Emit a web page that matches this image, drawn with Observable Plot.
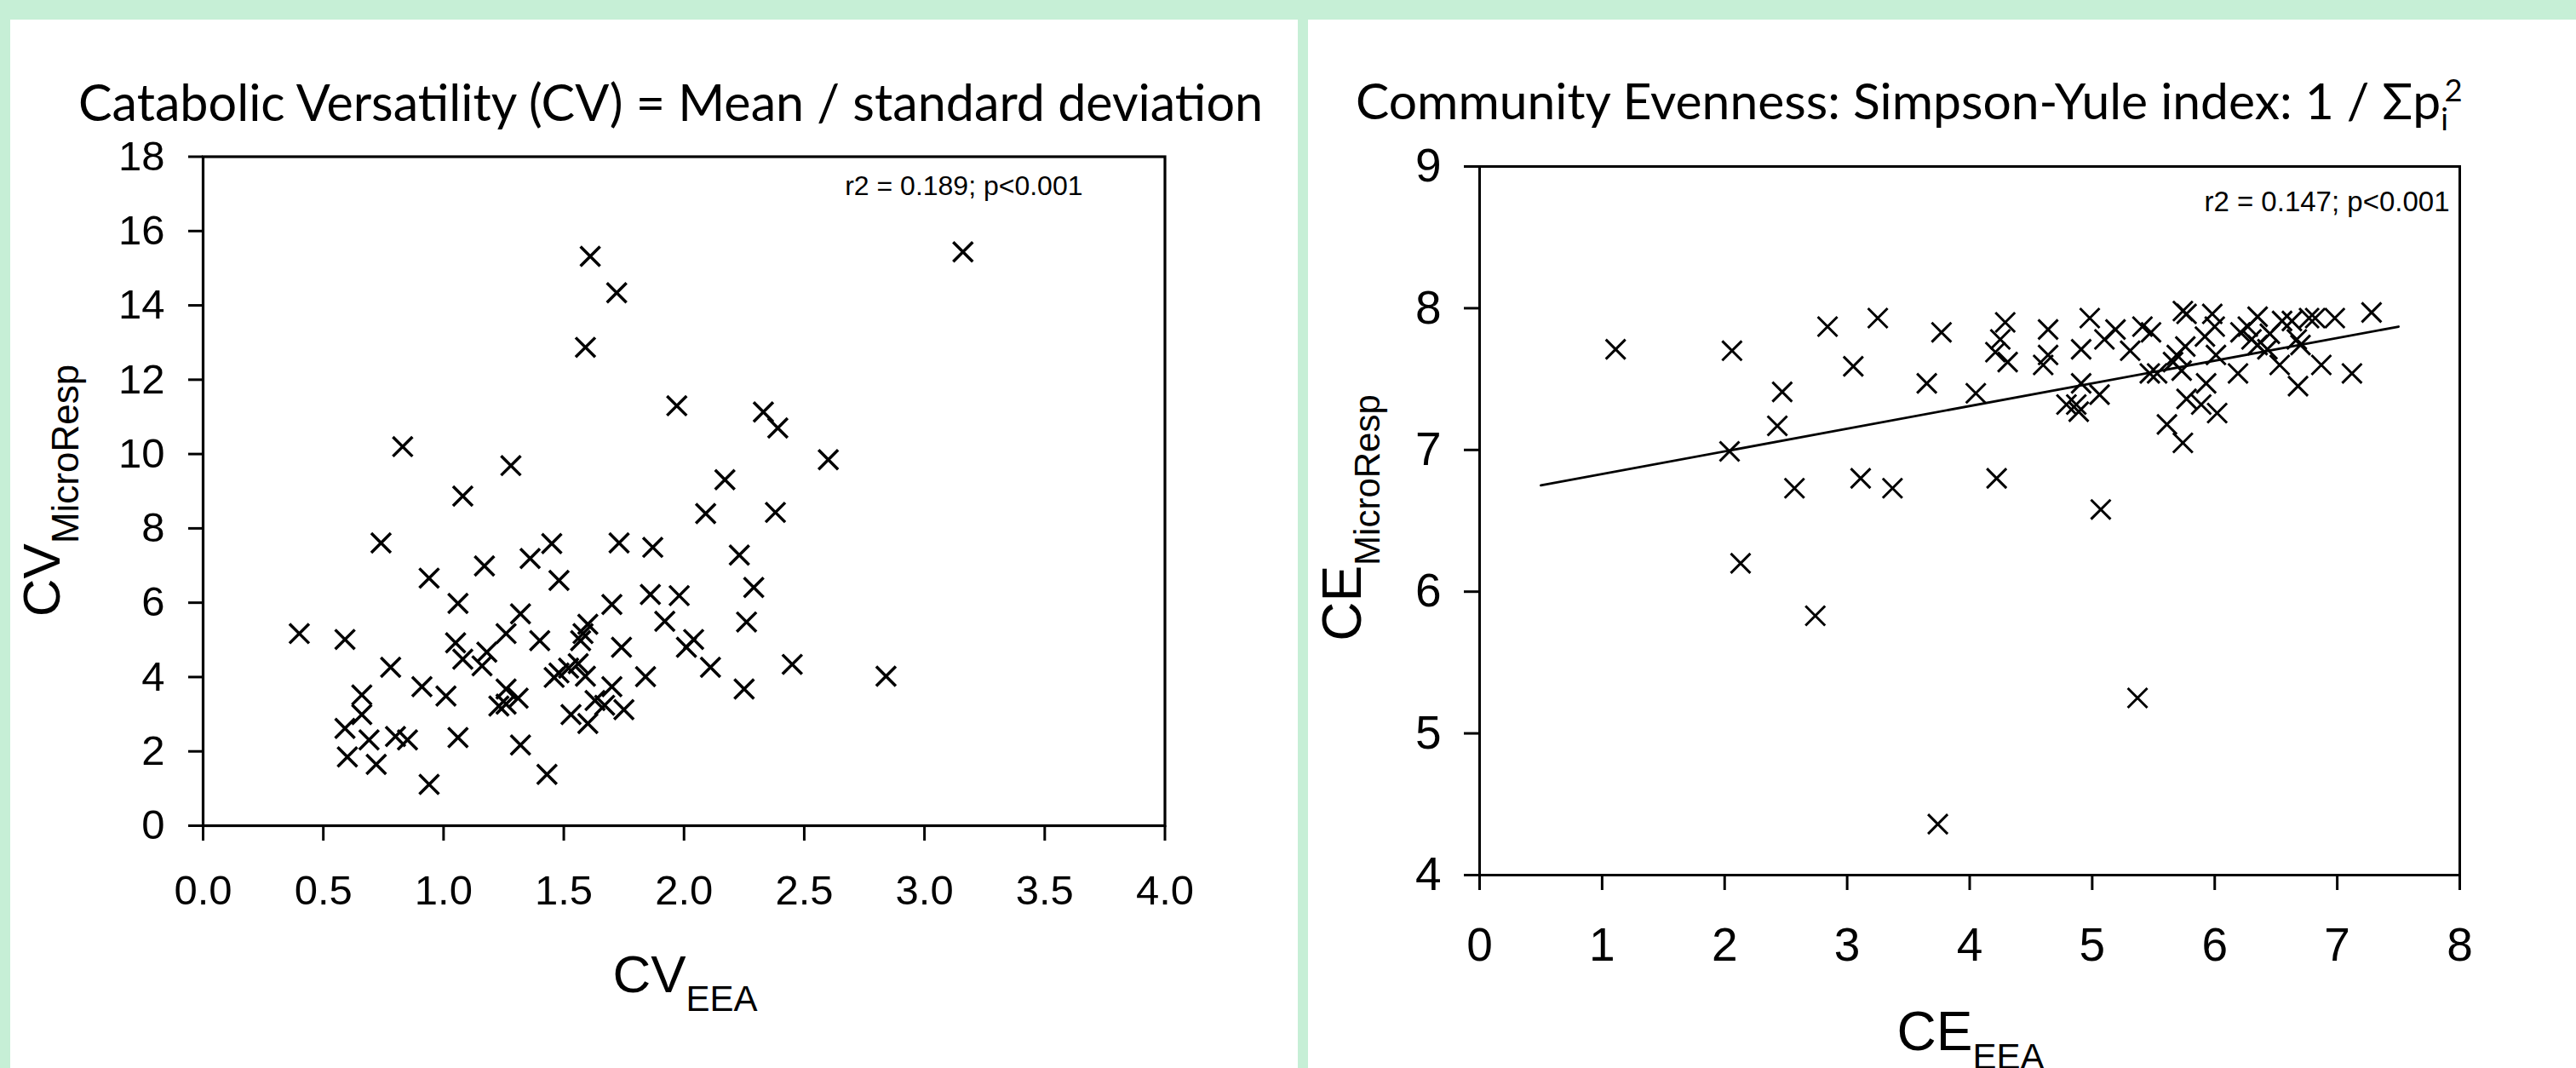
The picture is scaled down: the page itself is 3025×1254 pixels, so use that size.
<!DOCTYPE html>
<html>
<head>
<meta charset="utf-8">
<script src="https://cdn.jsdelivr.net/npm/d3@7"></script>
<script src="https://cdn.jsdelivr.net/npm/@observablehq/plot@0.6"></script>
<style>
  html, body { margin: 0; padding: 0; }
  body { width: 3025px; height: 1254px; overflow: hidden; background: #c6efd6; position: relative;
         font-family: "Liberation Sans", Arial, sans-serif; }
  .panel { position: absolute; background: #ffffff; top: 23px; height: 1231px; overflow: hidden; }
  .title { position: absolute; left: 0; top: 0; white-space: nowrap; font-family: Lato, "Open Sans", sans-serif;
           color: #000; line-height: 1.2; }
  .title sub, .title sup { font-size: 62%; line-height: 0; }
  .panel svg { position: absolute; left: 0; top: 130px; }
</style>
</head>
<body>
<div id="leftPanel" class="panel" style="left:12px;width:1512px"></div>
<div id="rightPanel" class="panel" style="left:1536px;width:1489px"></div>
<script>
// ---------------- data ----------------
const leftTitle = "Catabolic Versatility (CV) = Mean / standard deviation";
const rightTitleMain = "Community Evenness: Simpson-Yule index: 1 / Σp";
const rightTitleSub = "i";
const rightTitleSup = "2";

const cvStat = "r2 = 0.189; p<0.001";
const ceStat = "r2 = 0.147; p<0.001";

const cvXLabel = ["CV", "EEA"];
const cvYLabel = ["CV", "MicroResp"];
const ceXLabel = ["CE", "EEA"];
const ceYLabel = ["CE", "MicroResp"];

const cvXTicks = [0, 0.5, 1, 1.5, 2, 2.5, 3, 3.5, 4];
const cvYTicks = [0, 2, 4, 6, 8, 10, 12, 14, 16, 18];
const ceXTicks = [0, 1, 2, 3, 4, 5, 6, 7, 8];
const ceYTicks = [4, 5, 6, 7, 8, 9];

// Catabolic versatility: EEA (x) vs MicroResp (y)
const cvEEA = [1.61, 1.72, 1.59, 1.97, 2.33, 0.83, 1.28, 1.08, 2.17, 2.09,
               2.38, 0.74, 1.45, 1.73, 1.87, 1.36, 1.17, 0.94, 1.48, 2.23,
               2.29, 1.06, 1.86, 1.98, 1.70, 1.32, 1.92, 2.26, 0.40, 0.59,
               1.26, 1.60, 1.58, 1.57, 1.05, 1.40, 2.04, 2.01, 1.74, 1.18,
               1.08, 1.16, 0.78, 1.48, 1.52, 1.56, 1.59, 1.46, 1.84, 2.11,
               2.25, 0.66, 0.91, 1.01, 1.26, 1.31, 1.26, 1.23, 1.70, 1.63,
               1.67, 1.75, 0.66, 0.59, 1.53, 0.69, 0.80, 0.85, 1.06, 1.60,
               0.60, 0.72, 1.32, 0.94, 1.43, 3.16, 2.39, 2.60, 2.45, 2.84];
const cvMicroResp = [15.32, 14.34, 12.87, 11.30, 11.13, 10.20, 9.69, 8.87, 9.31, 8.40,
                     8.43, 7.61, 7.59, 7.61, 7.49, 7.19, 6.99, 6.66, 6.60, 7.28,
                     6.41, 5.98, 6.22, 6.19, 5.95, 5.70, 5.50, 5.48, 5.17, 5.01,
                     5.17, 5.42, 5.17, 4.98, 4.92, 4.98, 5.01, 4.80, 4.80, 4.67,
                     4.48, 4.30, 4.26, 4.11, 4.24, 4.36, 4.02, 3.99, 4.01, 4.26,
                     3.68, 3.52, 3.74, 3.49, 3.68, 3.43, 3.27, 3.22, 3.74, 3.37,
                     3.24, 3.12, 2.99, 2.62, 2.99, 2.31, 2.40, 2.31, 2.37, 2.75,
                     1.85, 1.65, 2.17, 1.11, 1.38, 15.44, 10.70, 9.85, 4.34, 4.02];

// Community evenness: EEA (x) vs MicroResp (y)
const ceEEA = [1.11, 2.06, 2.04, 2.13, 2.43, 2.47, 2.57, 2.74, 2.84, 3.05,
               3.11, 3.25, 3.37, 3.65, 3.77, 3.74, 4.05, 4.22, 4.21, 4.25,
               4.29, 4.31, 4.64, 4.64, 4.60, 4.91, 4.98, 4.91, 4.87, 4.79,
               4.89, 5.06, 5.07, 5.10, 5.19, 5.31, 5.41, 5.48, 5.47, 5.53,
               5.37, 5.61, 5.74, 5.74, 5.77, 5.69, 5.76, 5.66, 5.73, 5.77,
               5.89, 5.93, 6.02, 5.98, 6.00, 5.92, 6.01, 6.19, 6.21, 6.27,
               6.35, 6.30, 6.35, 6.43, 6.45, 6.53, 6.55, 6.63, 6.67, 6.68,
               6.70, 6.77, 6.82, 6.87, 6.98, 7.12, 7.28];
const ceMicroResp = [7.71, 7.70, 6.99, 6.20, 7.17, 7.41, 6.73, 5.83, 7.87, 7.59,
                     6.80, 7.93, 6.73, 7.47, 7.83, 4.36, 7.40, 6.80, 7.69, 7.78,
                     7.90, 7.62, 7.85, 7.67, 7.60, 7.71, 7.93, 7.47, 7.32, 7.32,
                     7.27, 7.39, 6.58, 7.78, 7.85, 7.70, 7.87, 7.83, 7.54, 7.54,
                     5.25, 7.18, 7.05, 7.98, 7.96, 7.67, 7.73, 7.62, 7.56, 7.36,
                     7.32, 7.47, 7.26, 7.96, 7.87, 7.80, 7.67, 7.54, 7.83, 7.87,
                     7.94, 7.78, 7.74, 7.71, 7.82, 7.60, 7.91, 7.91, 7.78, 7.45,
                     7.74, 7.93, 7.93, 7.60, 7.93, 7.54, 7.97];

// fitted regression line for CE
const ceFitX = [0.5, 7.5];
const ceFitY = [6.75, 7.87];

// ---------------- build ----------------
const FONT = "'Liberation Sans', Arial, sans-serif";
const cvRows = cvEEA.map((x, i) => ({x, y: cvMicroResp[i]}));
const ceRows = ceEEA.map((x, i) => ({x, y: ceMicroResp[i]}));
const fitRows = ceFitX.map((x, i) => ({x, y: ceFitY[i]}));

function addTitle(panel, html, left, right, baseline) {
  const div = document.createElement("div");
  div.className = "title";
  div.innerHTML = html + '<span class="probe" style="display:inline-block;width:0;height:0;vertical-align:baseline"></span>';
  panel.appendChild(div);
  let fs = 50;
  div.style.fontSize = fs + "px";
  for (let k = 0; k < 3; k++) {
    const w = div.getBoundingClientRect().width;
    fs = fs * (right - left) / w;
    div.style.fontSize = fs + "px";
  }
  const probe = div.querySelector(".probe");
  const base = probe.getBoundingClientRect().top - div.getBoundingClientRect().top;
  div.style.top = (baseline - base) + "px";
  div.style.left = left + "px";
}

function addAxisTitle(svg, {x, y, rotate, parts, mainSize, subSize, subShift}) {
  const t = d3.select(svg).append("text")
    .attr("transform", `translate(${x},${y}) rotate(${rotate})`)
    .attr("text-anchor", "middle")
    .attr("font-family", FONT)
    .attr("fill", "black");
  t.append("tspan").attr("font-size", mainSize).text(parts[0]);
  t.append("tspan").attr("font-size", subSize).attr("dy", subShift).text(parts[1]);
}

const leftPanel = document.getElementById("leftPanel");
const rightPanel = document.getElementById("rightPanel");

addTitle(leftPanel, leftTitle, 80, 1471, 119);
addTitle(rightPanel, `${rightTitleMain}<sub>${rightTitleSub}</sub><sup style="margin-left:-0.12em">${rightTitleSup}</sup>`, 56, 1356, 117);

const cvPlot = Plot.plot({
  width: 1512, height: 1101,
  marginLeft: 226, marginRight: 156.5, marginTop: 30.5, marginBottom: 285,
  style: {fontFamily: FONT, background: "transparent", color: "black", overflow: "visible"},
  x: {domain: [0, 4]},
  y: {domain: [0, 18]},
  marks: [
    Plot.axisX({ticks: cvXTicks, tickFormat: d3.format(".1f"), tickSize: 18, tickPadding: 40, fontSize: 49, strokeWidth: 3, label: null}),
    Plot.axisY({ticks: cvYTicks, tickSize: 17, tickPadding: 28, fontSize: 49, strokeWidth: 3, label: null}),
    Plot.frame({stroke: "black", strokeWidth: 3.2}),
    Plot.dot(cvRows, {x: "x", y: "y", symbol: "times", r: 10.5, stroke: "black", strokeWidth: 3.5}),
    Plot.text([cvStat], {frameAnchor: "top-right", textAnchor: "end", lineAnchor: "bottom", dx: -96.5, dy: 44.5, fontSize: 32, fill: "black"})
  ]
});
leftPanel.appendChild(cvPlot);
addAxisTitle(cvPlot, {x: 792.5, y: 1012, rotate: 0, parts: cvXLabel, mainSize: 62, subSize: 42, subShift: 22});
addAxisTitle(cvPlot, {x: 58, y: 423, rotate: -90, parts: cvYLabel, mainSize: 62, subSize: 44, subShift: 22});

const cePlot = Plot.plot({
  width: 1489, height: 1101,
  marginLeft: 201, marginRight: 137, marginTop: 42, marginBottom: 227,
  style: {fontFamily: FONT, background: "transparent", color: "black", overflow: "visible"},
  x: {domain: [0, 8]},
  y: {domain: [4, 9]},
  marks: [
    Plot.axisX({ticks: ceXTicks, tickFormat: d3.format("d"), tickSize: 18, tickPadding: 43, fontSize: 55, strokeWidth: 3, label: null}),
    Plot.axisY({ticks: ceYTicks, tickFormat: d3.format("d"), tickSize: 18, tickPadding: 27, fontSize: 55, strokeWidth: 3, label: null}),
    Plot.frame({stroke: "black", strokeWidth: 3}),
    Plot.line(fitRows, {x: "x", y: "y", stroke: "black", strokeWidth: 2.8}),
    Plot.dot(ceRows, {x: "x", y: "y", symbol: "times", r: 10.5, stroke: "black", strokeWidth: 3}),
    Plot.text([ceStat], {frameAnchor: "top-right", textAnchor: "end", lineAnchor: "bottom", dx: -12, dy: 52, fontSize: 33, fill: "black"})
  ]
});
rightPanel.appendChild(cePlot);
addAxisTitle(cePlot, {x: 778, y: 1080, rotate: 0, parts: ceXLabel, mainSize: 64, subSize: 42, subShift: 22});
addAxisTitle(cePlot, {x: 62, y: 455, rotate: -90, parts: ceYLabel, mainSize: 64, subSize: 42, subShift: 22});
</script>
</body>
</html>
